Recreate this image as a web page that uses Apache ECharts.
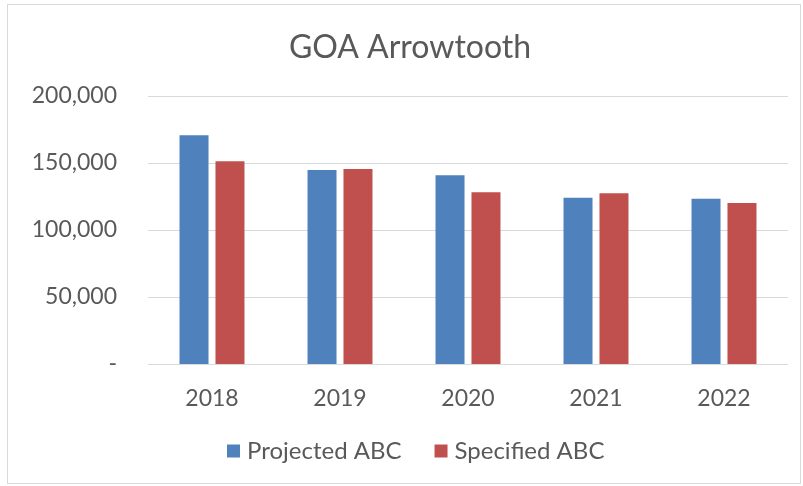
<!DOCTYPE html>
<html>
<head>
<meta charset="utf-8">
<script src="https://cdn.jsdelivr.net/npm/echarts@6/dist/echarts.min.js"></script>
<style>
  html, body { margin: 0; padding: 0; background: #fff; }
  #frame { position: absolute; left: 7px; top: 4px; width: 792px; height: 478px; border: 1px solid #d9d9d9; }
  #chart { position: absolute; left: 0; top: 0; width: 803px; height: 486px; }
</style>
</head>
<body>
<div id="frame"></div>
<div id="chart"></div>
<script>
// chart values
const years = ['2018', '2019', '2020', '2021', '2022']
const projectedAbc = [170700, 144800, 140800, 124100, 123400]
const specifiedAbc = [151300, 145500, 128100, 127400, 120100]
const yTicks = [0, 50000, 100000, 150000, 200000]

const font = 'Lato, "Open Sans", sans-serif'
const myChart = echarts.init(document.getElementById('chart'))

const option = {
  animation: false,
  title: {
    text: 'GOA Arrowtooth',
    left: 405,
    top: 27,
    textAlign: 'center',
    textStyle: { fontFamily: font, fontSize: 32, fontWeight: 'normal', color: '#595959' }
  },
  legend: {
    bottom: 18,
    left: 222,
    itemWidth: 13,
    itemHeight: 13,
    itemGap: 33,
    icon: 'rect',
    textStyle: { fontFamily: font, fontSize: 24, color: '#595959', padding: [0, 0, 0, 2] }
  },
  grid: { left: 148, right: 15, top: 96, bottom: 122 },
  xAxis: {
    type: 'category',
    data: years,
    axisTick: { show: false },
    axisLine: { show: false },
    axisLabel: { fontFamily: font, fontSize: 23, color: '#595959', margin: 23 }
  },
  yAxis: {
    type: 'value',
    min: yTicks[0],
    max: yTicks[yTicks.length - 1],
    interval: 50000,
    axisLabel: {
      fontFamily: font,
      fontSize: 23,
      color: '#595959',
      margin: 31,
      formatter: v => (v === 0 ? '-' : v.toLocaleString('en-US'))
    },
    splitLine: { lineStyle: { color: '#d9d9d9', width: 1 } }
  },
  series: [
    {
      name: 'Projected ABC',
      type: 'bar',
      data: projectedAbc,
      barWidth: 29,
      barGap: '24%',
      itemStyle: { color: '#4f81bd' }
    },
    {
      name: 'Specified ABC',
      type: 'bar',
      data: specifiedAbc,
      barWidth: 29,
      barGap: '24%',
      itemStyle: { color: '#c0504d' }
    }
  ]
}

myChart.setOption(option)
</script>
</body>
</html>
